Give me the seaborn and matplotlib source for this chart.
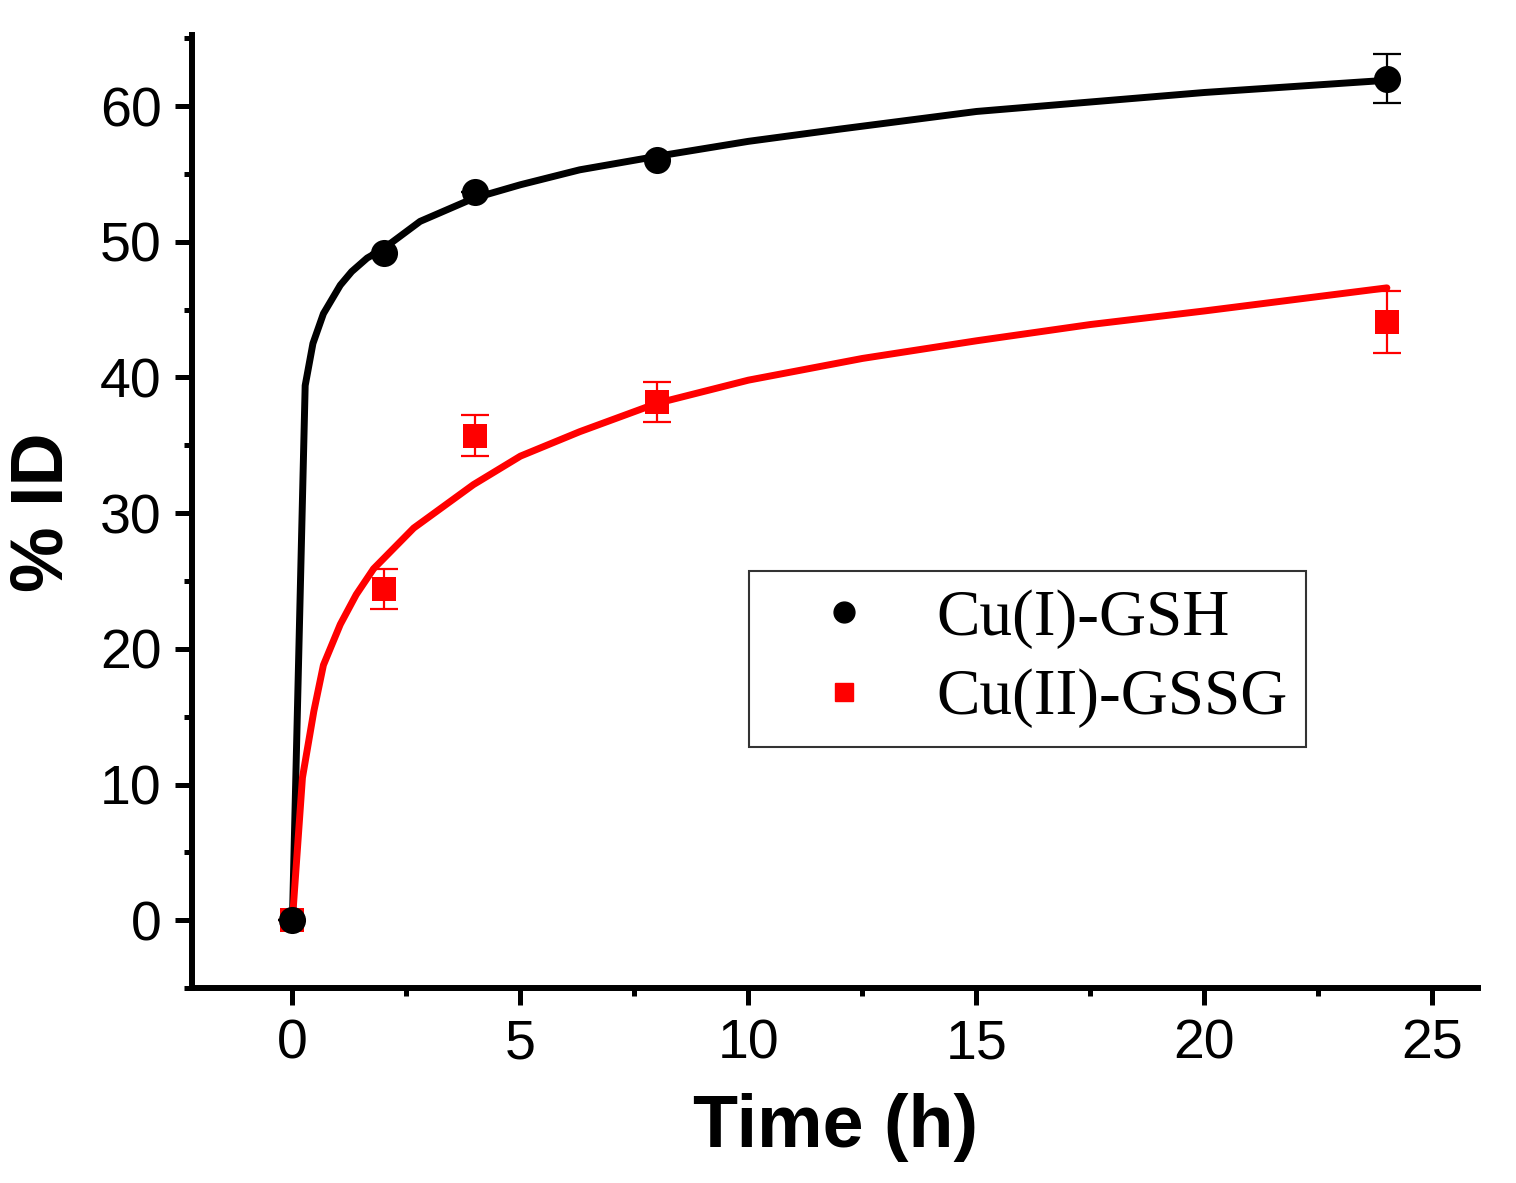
import numpy as np
import pandas as pd
import seaborn as sns
import matplotlib.pyplot as plt
from matplotlib.lines import Line2D
from matplotlib.ticker import MultipleLocator

# Measured points
time_h = [0, 2, 4, 8, 24]
gsh_id = [0, 49.2, 53.7, 56.0, 62.0]
gsh_err = [0, 0, 0, 0, 1.8]
gssg_id = [0, 24.4, 35.7, 38.2, 44.1]
gssg_err = [0, 1.5, 1.5, 1.45, 2.3]

# Fitted curves
gsh_fit_t = [0, 0.28, 0.45, 0.68, 1.05, 1.3, 1.64, 2.0, 2.8, 3.97, 5.0, 6.3,
             8, 10, 12, 15, 17.5, 20, 24]
gsh_fit_y = [0, 39.4, 42.5, 44.7, 46.8, 47.8, 48.8, 49.5, 51.5, 53.2, 54.2, 55.3,
             56.3, 57.4, 58.3, 59.6, 60.3, 61.0, 61.9]
gssg_fit_t = [0, 0.22, 0.47, 0.68, 1.05, 1.4, 1.78, 2.66, 3.97, 5.0, 6.3,
              8, 10, 12.5, 15, 17.5, 20, 24]
gssg_fit_y = [0, 10.5, 15.4, 18.8, 21.8, 24.0, 25.9, 28.9, 32.1, 34.2, 36.0,
              38.1, 39.8, 41.4, 42.7, 43.9, 44.9, 46.6]

sns.set_style("ticks")
plt.rcParams['font.family'] = ['Liberation Sans', 'DejaVu Sans']
plt.rcParams['text.color'] = 'black'
plt.rcParams['axes.labelcolor'] = 'black'

fig = plt.figure(figsize=(15.16, 11.83), dpi=100)
ax = fig.add_axes([0.1267, 0.1648, 0.8483, 0.8052])

sns.lineplot(x=gsh_fit_t, y=gsh_fit_y, color='black', lw=5, sort=False, ax=ax)
sns.lineplot(x=gssg_fit_t, y=gssg_fit_y, color='red', lw=5, sort=False, ax=ax)

ax.errorbar(time_h, gssg_id, yerr=gssg_err, fmt='none', ecolor='red',
            elinewidth=1.6, capsize=10, capthick=1.6, zorder=3)
ax.errorbar(time_h, gsh_id, yerr=gsh_err, fmt='none', ecolor='black',
            elinewidth=1.6, capsize=10, capthick=1.6, zorder=3)
sns.scatterplot(x=time_h, y=gssg_id, marker='s', color='red', s=300,
                edgecolor='red', linewidth=0, ax=ax, zorder=4)
sns.scatterplot(x=time_h, y=gsh_id, marker='o', color='black', s=380,
                edgecolor='black', linewidth=0, ax=ax, zorder=4)

ax.set_xlim(-2.2, 26)
ax.set_ylim(-5, 65.2)
ax.xaxis.set_major_locator(MultipleLocator(5))
ax.xaxis.set_minor_locator(MultipleLocator(2.5))
ax.yaxis.set_major_locator(MultipleLocator(10))
ax.yaxis.set_minor_locator(MultipleLocator(5))

for side in ['top', 'right']:
    ax.spines[side].set_visible(False)
for side in ['left', 'bottom']:
    ax.spines[side].set_linewidth(4.3)
    ax.spines[side].set_color('black')

ax.tick_params(which='major', length=12, width=3.6, labelsize=40, pad=10,
               color='black', labelcolor='black')
ax.tick_params(which='minor', length=6, width=3.6, color='black')

ax.set_xlabel('Time (h)', fontsize=53, fontweight='bold', labelpad=16)
ax.set_ylabel('% ID', fontsize=53, fontweight='bold', labelpad=16)

handles = [
    Line2D([], [], marker='o', color='black', ls='none', markersize=15),
    Line2D([], [], marker='s', color='red', ls='none', markersize=13),
]
leg = ax.legend(handles, ['Cu(I)-GSH', 'Cu(II)-GSSG'], loc='upper left',
                bbox_to_anchor=(0.433, 0.4376), borderaxespad=0, frameon=True,
                fancybox=False, prop={'family': 'Liberation Serif', 'size': 47},
                handletextpad=0.25, borderpad=0.28, labelspacing=0.3,
                handlelength=2.34)
leg.get_frame().set_edgecolor('black')
leg.get_frame().set_linewidth(1.5)
for t in leg.get_texts():
    t.set_color('black')

fig.savefig('out.png', dpi=100)
